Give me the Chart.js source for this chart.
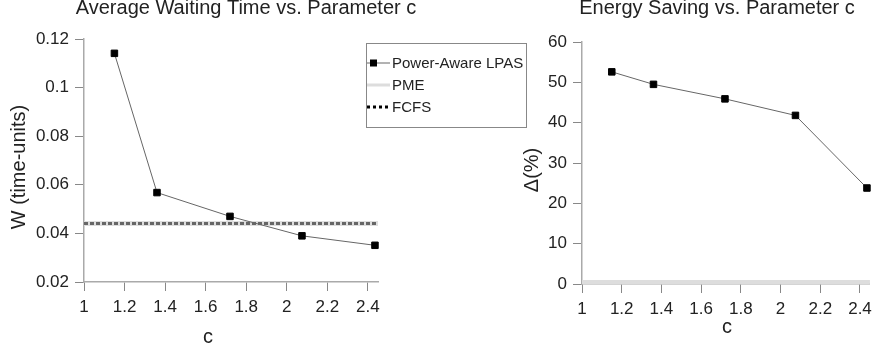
<!DOCTYPE html>
<html>
<head>
<meta charset="utf-8">
<script src="https://cdn.jsdelivr.net/npm/chart.js"></script>
<style>
    body { margin: 0; background: #fff; width: 878px; height: 352px; overflow: hidden; position: relative; }
    canvas { position: absolute; top: 0; }
    #waitChart { left: 0; }
    #energyChart { left: 520px; }
</style>
</head>
<body>
<canvas id="waitChart" width="540" height="352"></canvas>
<canvas id="energyChart" width="358" height="352"></canvas>
<script>
// =============================================
// data
// =============================================

const cValues = [1.15, 1.36, 1.72, 2.075, 2.435];
const waitLPAS = [0.1141, 0.0568, 0.047, 0.039, 0.0351];
const energyLPAS = [52.6, 49.5, 45.9, 41.8, 23.8];

// flat reference lines, drawn across the whole c range
const cRange = [1, 2.45];
const waitPME = [0.0441, 0.0441];
const waitFCFS = [0.0441, 0.0441];
const energyPME = [0, 0];

// tick labels
const cTicks = [1, 1.2, 1.4, 1.6, 1.8, 2, 2.2, 2.4];
const waitTicks = [0.02, 0.04, 0.06, 0.08, 0.1, 0.12];
const energyTicks = [0, 10, 20, 30, 40, 50, 60];

const FONT = '"Liberation Sans", Arial, sans-serif';

const toPoints = (xs, ys) => xs.map((x, i) => ({ x: x, y: ys[i] }));
const fmt = (v) => String(+v.toFixed(3));

// titles + axis titles, placed by hand
const chartText = {
    id: "chartText",
    afterDraw(chart, args, opts) {
        const ctx = chart.ctx;
        ctx.save();
        ctx.fillStyle = "#222";
        ctx.textAlign = "center";
        ctx.textBaseline = "alphabetic";
        ctx.font = "20px " + FONT;
        ctx.fillText(opts.title, opts.titleX, opts.titleY);
        ctx.fillText(opts.xTitle, opts.xTitleX, opts.xTitleY);
        ctx.translate(opts.yTitleX, opts.yTitleY);
        ctx.rotate(-Math.PI / 2);
        ctx.textBaseline = "middle";
        ctx.fillText(opts.yTitle, 0, 0);
        ctx.restore();
    },
};

// legend box of the left chart
const boxLegend = {
    id: "boxLegend",
    afterDraw(chart, args, opts) {
        if (!opts.show) return;
        const ctx = chart.ctx;
        const { x, y, w, h } = opts;
        ctx.save();
        ctx.fillStyle = "#fff";
        ctx.fillRect(x, y, w, h);
        ctx.strokeStyle = "#888";
        ctx.lineWidth = 1;
        ctx.strokeRect(x + 0.5, y + 0.5, w, h);

        const rows = ["Power-Aware LPAS", "PME", "FCFS"];
        ctx.font = "15px " + FONT;
        ctx.textBaseline = "middle";
        rows.forEach((label, i) => {
            const ds = chart.data.datasets.find((d) => d.label === label);
            const ry = y + 20 + i * 22;
            ctx.beginPath();
            ctx.strokeStyle = label === "FCFS" ? "#000" : ds.borderColor;
            ctx.lineWidth = label === "Power-Aware LPAS" ? 1 : 3;
            ctx.setLineDash(label === "FCFS" ? [3, 3] : []);
            ctx.moveTo(x + 1, ry);
            ctx.lineTo(x + 24, ry);
            ctx.stroke();
            ctx.setLineDash([]);
            if (label === "Power-Aware LPAS") {
                ctx.fillStyle = "#000";
                ctx.fillRect(x + 4, ry - 3.5, 7, 7);
            }
            ctx.fillStyle = "#222";
            ctx.fillText(label, x + 26, ry + 1);
        });
        ctx.restore();
    },
};

function linearAxis(ticks, min, max, fitSize, horizontal) {
    return {
        type: "linear",
        min: min,
        max: max,
        afterBuildTicks: (scale) => {
            scale.ticks = ticks.map((v) => ({ value: v }));
        },
        afterFit: (scale) => {
            if (horizontal) scale.height = fitSize;
            else scale.width = fitSize;
        },
        grid: {
            drawOnChartArea: false,
            drawTicks: true,
            tickLength: 9,
            color: "#888",
        },
        border: { color: "#aaa", width: 1.5 },
        ticks: {
            color: "#222",
            padding: horizontal ? 6 : 6,
            font: { size: 17, family: FONT },
            callback: fmt,
        },
    };
}

function lpasDataset(ys) {
    return {
        label: "Power-Aware LPAS",
        data: toPoints(cValues, ys),
        borderColor: "#666",
        borderWidth: 1,
        pointStyle: "rect",
        pointRadius: 4.6,
        pointBackgroundColor: "#000",
        pointBorderColor: "#000",
        pointBorderWidth: 1,
        clip: false,
    };
}

function flatDataset(label, ys, color, width, dash) {
    return {
        label: label,
        data: toPoints(cRange, ys),
        borderColor: color,
        borderWidth: width,
        borderDash: dash || [],
        pointRadius: 0,
        clip: 0,
    };
}

function baseOptions(textOpts, legendOpts, padding, xFit, yFit, yTicks, yMin, yMax) {
    return {
        responsive: false,
        animation: false,
        layout: { padding: padding },
        scales: {
            x: linearAxis(cTicks, cRange[0], cRange[1], xFit, true),
            y: linearAxis(yTicks, yMin, yMax, yFit, false),
        },
        plugins: {
            legend: { display: false },
            tooltip: { enabled: false },
            chartText: textOpts,
            boxLegend: legendOpts,
        },
    };
}

new Chart(document.getElementById("waitChart"), {
    type: "line",
    data: {
        datasets: [
            lpasDataset(waitLPAS),
            flatDataset("FCFS", waitFCFS, "#666", 3, [4, 2]),
            flatDataset("PME", waitPME, "#ddd", 5),
        ],
    },
    options: baseOptions(
        {
            title: "Average Waiting Time vs. Parameter c",
            titleX: 246, titleY: 14,
            xTitle: "c", xTitleX: 208, xTitleY: 343,
            yTitle: "W (time-units)", yTitleX: 19, yTitleY: 167,
        },
        { show: true, x: 366, y: 43, w: 160, h: 84 },
        { top: 39, right: 540 - 378, left: 0, bottom: 0 },
        70, 84, waitTicks, 0.02, 0.12
    ),
    plugins: [chartText, boxLegend],
});

new Chart(document.getElementById("energyChart"), {
    type: "line",
    data: {
        datasets: [
            lpasDataset(energyLPAS),
            flatDataset("PME", energyPME, "#ddd", 8),
        ],
    },
    options: baseOptions(
        {
            title: "Energy Saving vs. Parameter c",
            titleX: 197, titleY: 14,
            xTitle: "c", xTitleX: 207, xTitleY: 333,
            yTitle: "\u0394(%)", yTitleX: 12.5, yTitleY: 170,
        },
        { show: false },
        { top: 42, right: 2, left: 0, bottom: 0 },
        68, 62, energyTicks, 0, 60
    ),
    plugins: [chartText, boxLegend],
});
</script>
</body>
</html>
